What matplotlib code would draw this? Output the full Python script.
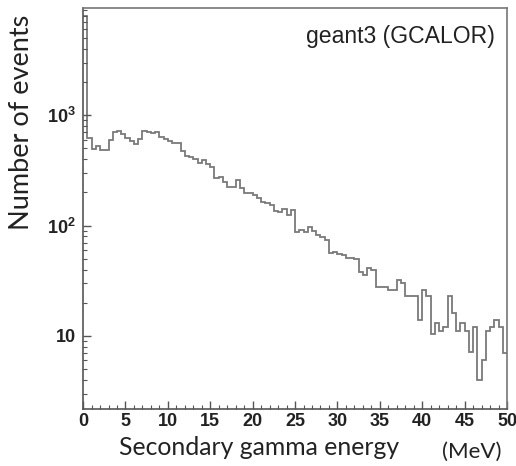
import numpy as np
import matplotlib
matplotlib.use('Agg')
import matplotlib.pyplot as plt
from matplotlib.ticker import MultipleLocator, LogLocator, NullFormatter, FixedLocator, FixedFormatter

# Histogram of secondary gamma energy, 0.5 MeV bins from 0 to 50 MeV
bin_width = 0.5
e_min, e_max = 0.0, 50.0
counts = [
    8000, 620, 490, 530, 485, 485, 600, 700, 720, 670,
    620, 580, 550, 610, 720, 710, 690, 700, 640, 610,
    580, 560, 560, 470, 430, 420, 400, 370, 390, 360,
    342, 270, 278, 250, 226, 226, 259, 220, 199, 199,
    190, 177, 165, 160, 155, 135, 132, 141, 125, 140,
    88, 91, 88, 97, 90, 82, 79, 74, 57, 58,
    55, 54, 51, 51, 50, 38, 36, 41, 40, 28,
    28, 28, 26, 26, 32, 30, 23, 23, 23, 14,
    26, 23, 10.5, 13, 11, 12, 23, 16, 11, 13,
    11, 7.2, 12, 4, 6, 11, 12, 14, 12, 7,
]
edges = np.arange(e_min, e_max + bin_width / 2, bin_width)

x_ticks = [0, 5, 10, 15, 20, 25, 30, 35, 40, 45, 50]
y_ticks = [10, 100, 1000]
y_ticklabels = ['10', r'$\mathbf{10^2}$', r'$\mathbf{10^3}$']

plt.rcParams['mathtext.fontset'] = 'custom'
plt.rcParams['mathtext.bf'] = 'Liberation Sans:bold'
plt.rcParams['mathtext.rm'] = 'Liberation Sans'

fig = plt.figure(figsize=(5.16, 4.66), dpi=100)
ax = fig.add_axes([0.161, 0.1223, 0.8216, 0.8597])

ax.stairs(counts, edges, baseline=None, color='#7a7a7a', linewidth=1.3)

ax.set_yscale('log')
ax.set_xlim(e_min, e_max)
ax.set_ylim(2.18, 9300)

ax.xaxis.set_major_locator(FixedLocator(x_ticks))
ax.xaxis.set_minor_locator(MultipleLocator(1))
ax.yaxis.set_major_locator(FixedLocator(y_ticks))
ax.yaxis.set_major_formatter(FixedFormatter(y_ticklabels))
ax.yaxis.set_minor_locator(LogLocator(base=10, subs=np.arange(2, 10)))
ax.yaxis.set_minor_formatter(NullFormatter())

ax.tick_params(which='both', direction='in', top=False, right=False, color='#555555')
ax.tick_params(which='major', length=6, width=1)
ax.tick_params(which='minor', length=3, width=0.8)
ax.tick_params(axis='x', which='major', pad=3)
ax.tick_params(axis='y', which='major', pad=5)
for lab in ax.get_xticklabels() + ax.get_yticklabels():
    lab.set_fontfamily('Liberation Sans')
    lab.set_fontweight('bold')
    lab.set_fontsize(13)
    lab.set_color('#222222')

for sp in ax.spines.values():
    sp.set_color('#777777')
    sp.set_linewidth(1.2)
ax.spines['left'].set_color('#555555')
ax.spines['bottom'].set_color('#555555')

ax.text(0.972, 0.931, 'geant3 (GCALOR)', transform=ax.transAxes, ha='right', va='center',
        fontsize=16.6, family='Liberation Sans', color='#222222')

fig.text(0.042, 0.738, 'Number of events', rotation=90, ha='center', va='center',
         fontsize=19.5, family='Lato', color='#222222')
fig.text(0.502, 0.039, 'Secondary gamma energy', ha='center', va='center',
         fontsize=17.8, family='Lato', color='#222222')
fig.text(0.915, 0.030, '(MeV)', ha='center', va='center',
         fontsize=16, family='Lato', color='#222222')

fig.savefig('out.png', dpi=100)
